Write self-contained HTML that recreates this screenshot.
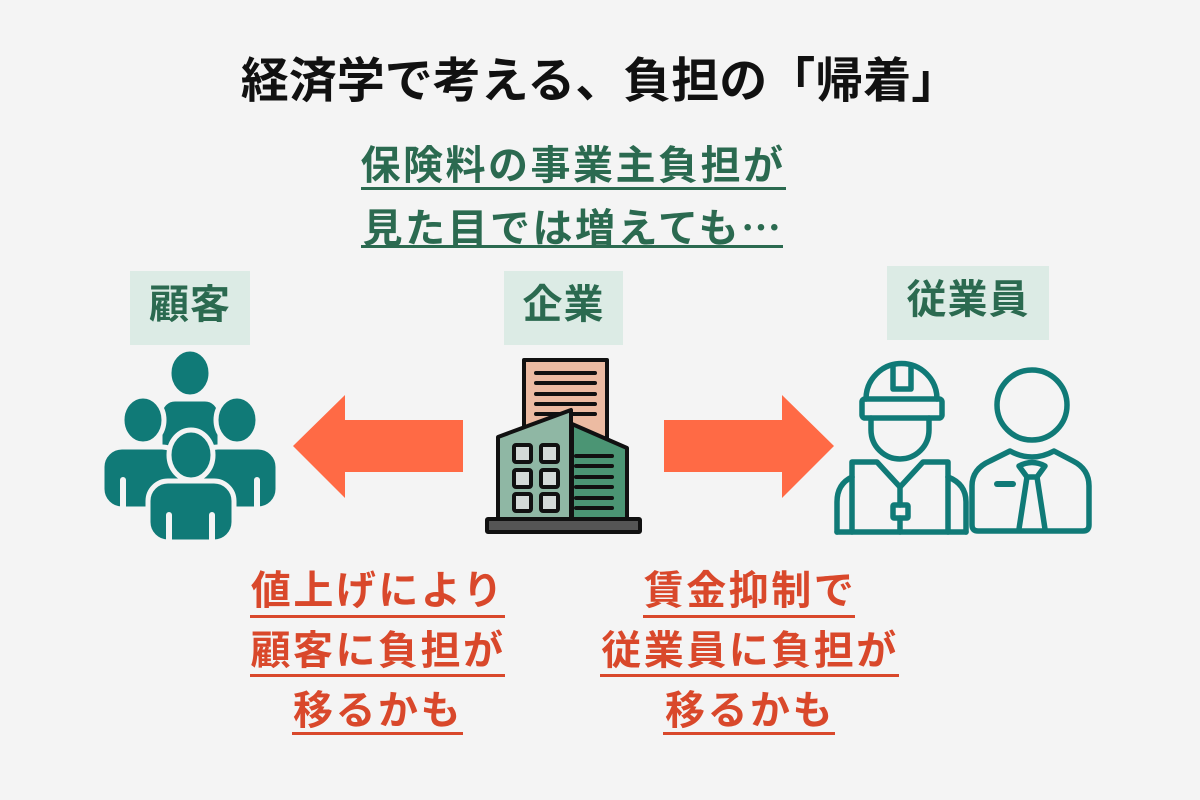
<!DOCTYPE html>
<html><head><meta charset="utf-8"><style>
html,body{margin:0;padding:0;}
body{width:1200px;height:800px;background:#f4f4f4;position:relative;overflow:hidden;font-family:"Liberation Sans","Noto Sans CJK JP",sans-serif;font-weight:700;}
.t{position:absolute;white-space:nowrap;line-height:1;text-align:center;}
.title{left:0;width:1200px;top:58px;font-size:48px;color:#111;}
.g{color:#2b6a50;font-size:40px;letter-spacing:2.5px;}
.r{color:#d9482b;font-size:40px;letter-spacing:2.5px;}
.ul{position:absolute;height:3px;}
.box{position:absolute;background:#dcebe5;}
.lab{color:#2b6a50;font-size:40px;letter-spacing:1px;}
.cjk{font-family:"Noto Sans CJK JP",sans-serif;}
svg{position:absolute;left:0;top:0;}
</style></head><body>
<div class="t title">経済学で考える、負担の「帰着」</div>

<div class="t g" style="left:273px;width:600px;top:146px;">保険料の事業主負担が</div>
<div class="ul" style="left:361px;width:425px;top:187px;background:#2b6a50;"></div>
<div class="t g" style="left:273px;width:600px;top:205px;">見た目では増えても<span class="cjk">…</span></div>
<div class="ul" style="left:361px;width:422px;top:245px;background:#2b6a50;"></div>

<div class="box" style="left:130px;top:271px;width:120px;height:74px;"></div>
<div class="t lab" style="left:130px;width:120px;top:285px;">顧客</div>
<div class="box" style="left:504px;top:271px;width:119px;height:74px;"></div>
<div class="t lab" style="left:504px;width:119px;top:285px;">企業</div>
<div class="box" style="left:887px;top:266px;width:162px;height:74px;"></div>
<div class="t lab" style="left:887px;width:162px;top:280px;">従業員</div>

<div class="t r" style="left:178px;width:400px;top:571px;">値上げにより</div>
<div class="ul" style="left:250px;width:255px;top:615px;background:#d9482b;"></div>
<div class="t r" style="left:178px;width:400px;top:631px;">顧客に負担が</div>
<div class="ul" style="left:250px;width:255px;top:674px;background:#d9482b;"></div>
<div class="t r" style="left:178px;width:400px;top:691px;">移るかも</div>
<div class="ul" style="left:292px;width:171px;top:732px;background:#d9482b;"></div>

<div class="t r" style="left:550px;width:400px;top:571px;">賃金抑制で</div>
<div class="ul" style="left:643px;width:212px;top:615px;background:#d9482b;"></div>
<div class="t r" style="left:550px;width:400px;top:631px;">従業員に負担が</div>
<div class="ul" style="left:600px;width:299px;top:674px;background:#d9482b;"></div>
<div class="t r" style="left:550px;width:400px;top:691px;">移るかも</div>
<div class="ul" style="left:663px;width:172px;top:732px;background:#d9482b;"></div>

<svg width="1200" height="800" viewBox="0 0 1200 800">
  <!-- arrows -->
  <polygon points="293,446 345,395 345,420 463,420 463,472 345,472 345,498" fill="#ff6a45"/>
  <polygon points="834,446 782,395 782,420 664,420 664,472 782,472 782,498" fill="#ff6a45"/>

  <!-- people group -->
  <g fill="#107a77" stroke="#f4f4f4" stroke-width="5">
    <rect x="160" y="399" width="60" height="60" rx="15"/>
    <ellipse cx="190" cy="373" rx="21" ry="24"/>
    <rect x="102" y="447" width="80" height="62" rx="20"/>
    <ellipse cx="143" cy="420" rx="21" ry="24"/>
    <rect x="198" y="447" width="80" height="62" rx="20"/>
    <ellipse cx="237" cy="420" rx="21" ry="24"/>
    <rect x="148" y="481" width="86" height="61" rx="20"/>
    <ellipse cx="191" cy="455" rx="22" ry="25"/>
  </g>
  <g fill="#f4f4f4">
    <rect x="120" y="477" width="6" height="34" rx="3"/>
    <rect x="254" y="477" width="6" height="34" rx="3"/>
    <rect x="166" y="512" width="6" height="32" rx="3"/>
    <rect x="209" y="512" width="6" height="32" rx="3"/>
  </g>

  <!-- building -->
  <g stroke="#111" stroke-width="4" stroke-linejoin="round">
    <rect x="524" y="360" width="83" height="90" fill="#ecbba2"/>
  </g>
  <g stroke="#111" stroke-width="4" stroke-linecap="round">
    <line x1="536" y1="373" x2="595" y2="373"/>
    <line x1="536" y1="383" x2="595" y2="383"/>
    <line x1="536" y1="394" x2="595" y2="394"/>
    <line x1="536" y1="404" x2="595" y2="404"/>
    <line x1="536" y1="414" x2="595" y2="414"/>
  </g>
  <g stroke="#111" stroke-width="4" stroke-linejoin="round">
    <polygon points="572,424 627,448 627,520 572,520" fill="#4b9574"/>
    <polygon points="498,437 571,410 571,520 498,520" fill="#8fb7a4"/>
  </g>
  <g stroke="#111" stroke-width="4" stroke-linecap="round">
    <line x1="576" y1="456" x2="612" y2="456"/>
    <line x1="576" y1="466" x2="612" y2="466"/>
    <line x1="576" y1="477" x2="612" y2="477"/>
    <line x1="576" y1="487" x2="612" y2="487"/>
    <line x1="576" y1="498" x2="612" y2="498"/>
    <line x1="576" y1="508" x2="612" y2="508"/>
  </g>
  <g stroke="#111" stroke-width="4" fill="#d4dad8" stroke-linejoin="round">
    <rect x="514" y="445" width="17" height="17" rx="2"/>
    <rect x="541" y="445" width="17" height="17" rx="2"/>
    <rect x="514" y="470" width="17" height="17" rx="2"/>
    <rect x="541" y="470" width="17" height="17" rx="2"/>
    <rect x="514" y="494" width="17" height="17" rx="2"/>
    <rect x="541" y="494" width="17" height="17" rx="2"/>
    <rect x="487" y="519" width="153" height="13" rx="1" fill="#555"/>
  </g>

  <!-- workers -->
  <g fill="none" stroke="#107a77" stroke-width="5.5" stroke-linejoin="round" stroke-linecap="round">
    <path d="M866 399 A35.5 35.5 0 0 1 937 399"/>
    <rect x="862" y="399" width="80" height="19" rx="3"/>
    <path d="M893 365 V389 H911 V365"/>
    <path d="M871 418 V430 A29 29 0 0 0 929 430 V418"/>
    <path d="M852 532 V462 H877 L900 487 L923 462 H948 V532"/>
    <path d="M837 532 V502 Q837 484 852 477"/>
    <path d="M966 532 V502 Q966 484 948 477"/>
    <path d="M837 532 H966"/>
    <path d="M900 487 V505"/>
    <rect x="893" y="505" width="15" height="13" rx="1"/>
    <path d="M900 518 V532"/>

    <circle cx="1032" cy="405" r="35"/>
    <path d="M972 525 V486 Q972 469 990 461 L1010 451 Q1032 463 1054 451 L1073 461 Q1089 469 1089 486 V525 Q1089 531 1083 531 H978 Q972 531 972 525 Z"/>
    <path d="M1019 466 Q1032 459 1045 466 L1037 477 H1027 Z"/>
    <path d="M1027 477 L1019 529 M1037 477 L1045 529"/>
    <path d="M997 484 H1013" stroke-width="6"/>
  </g>
</svg>
</body></html>
